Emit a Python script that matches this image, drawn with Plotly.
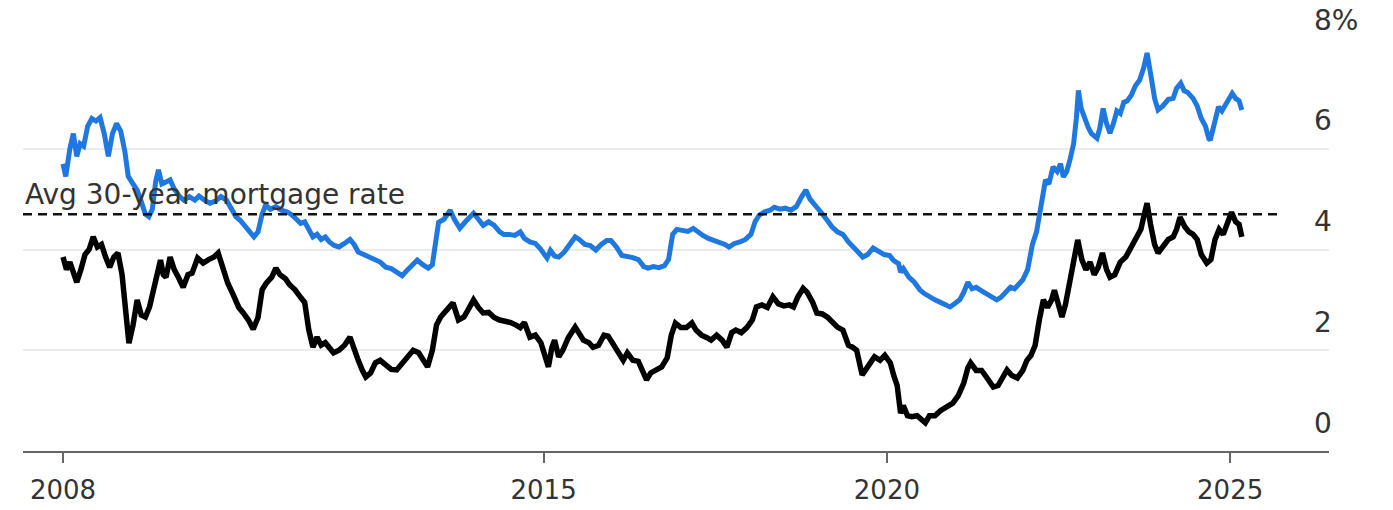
import plotly.graph_objects as go

# ---- data (decimal years, percent) ----
mortgage_x = [2008.00, 2008.04, 2008.10, 2008.15, 2008.20, 2008.25, 2008.30, 2008.36, 2008.42, 2008.48,
              2008.54, 2008.60, 2008.66, 2008.72, 2008.78, 2008.84, 2008.90, 2008.95, 2009.02, 2009.08,
              2009.14, 2009.20, 2009.25, 2009.30, 2009.35, 2009.39, 2009.44, 2009.50, 2009.56, 2009.62,
              2009.70, 2009.76, 2009.84, 2009.92, 2009.98, 2010.06, 2010.14, 2010.22, 2010.30, 2010.38,
              2010.45, 2010.52, 2010.58, 2010.65, 2010.72, 2010.78, 2010.84, 2010.90, 2010.95, 2011.02,
              2011.10, 2011.18, 2011.26, 2011.32, 2011.40, 2011.46, 2011.52, 2011.58, 2011.64, 2011.70,
              2011.76, 2011.82, 2011.88, 2011.95, 2012.02, 2012.10, 2012.18, 2012.24, 2012.30, 2012.38,
              2012.46, 2012.56, 2012.62, 2012.70, 2012.78, 2012.86, 2012.94, 2013.02, 2013.10, 2013.16,
              2013.24, 2013.32, 2013.38, 2013.42, 2013.47, 2013.55, 2013.64, 2013.70, 2013.78, 2013.86,
              2013.94, 2013.98, 2014.05, 2014.12, 2014.20, 2014.28, 2014.36, 2014.42, 2014.50, 2014.58,
              2014.66, 2014.72, 2014.80, 2014.88, 2014.95, 2015.05, 2015.10, 2015.16, 2015.22, 2015.30,
              2015.38, 2015.46, 2015.52, 2015.60, 2015.68, 2015.76, 2015.84, 2015.92, 2015.98, 2016.06,
              2016.14, 2016.22, 2016.30, 2016.38, 2016.46, 2016.52, 2016.60, 2016.68, 2016.76, 2016.82,
              2016.88, 2016.94, 2017.02, 2017.10, 2017.18, 2017.24, 2017.32, 2017.40, 2017.48, 2017.56,
              2017.64, 2017.70, 2017.78, 2017.86, 2017.94, 2018.02, 2018.08, 2018.14, 2018.22, 2018.30,
              2018.36, 2018.44, 2018.52, 2018.60, 2018.68, 2018.76, 2018.82, 2018.88, 2018.96, 2019.04,
              2019.12, 2019.20, 2019.28, 2019.36, 2019.44, 2019.52, 2019.58, 2019.65, 2019.72, 2019.80,
              2019.88, 2019.96, 2020.04, 2020.10, 2020.17, 2020.20, 2020.24, 2020.32, 2020.40, 2020.48,
              2020.54, 2020.62, 2020.70, 2020.78, 2020.86, 2020.92, 2020.98, 2021.06, 2021.12, 2021.18,
              2021.24, 2021.30, 2021.38, 2021.46, 2021.54, 2021.60, 2021.66, 2021.72, 2021.80, 2021.86,
              2021.92, 2021.98, 2022.05, 2022.12, 2022.18, 2022.23, 2022.27, 2022.31, 2022.36, 2022.42,
              2022.48, 2022.53, 2022.57, 2022.62, 2022.67, 2022.72, 2022.76, 2022.79, 2022.83, 2022.88,
              2022.93, 2022.98, 2023.06, 2023.10, 2023.15, 2023.20, 2023.25, 2023.30, 2023.35, 2023.40,
              2023.45, 2023.50, 2023.56, 2023.62, 2023.68, 2023.74, 2023.79, 2023.84, 2023.90, 2023.95,
              2024.02, 2024.10, 2024.17, 2024.22, 2024.28, 2024.33, 2024.38, 2024.46, 2024.52, 2024.58,
              2024.64, 2024.69, 2024.71, 2024.77, 2024.83, 2024.88, 2024.96, 2025.03, 2025.08, 2025.13,
              2025.17]
mortgage_y = [5.70, 5.45, 6.00, 6.30, 5.85, 6.10, 6.05, 6.45, 6.60, 6.55,
              6.62, 6.30, 5.85, 6.30, 6.50, 6.35, 5.95, 5.45, 5.30, 5.18,
              4.95, 4.70, 4.65, 4.80, 5.35, 5.58, 5.30, 5.35, 5.38, 5.20,
              5.05, 4.98, 5.05, 4.98, 5.06, 4.98, 4.92, 4.96, 5.05, 4.98,
              4.80, 4.65, 4.58, 4.45, 4.33, 4.25, 4.35, 4.70, 4.88, 4.80,
              4.85, 4.78, 4.75, 4.70, 4.60, 4.52, 4.55, 4.40, 4.25, 4.30,
              4.20, 4.25, 4.15, 4.08, 4.05, 4.12, 4.20, 4.10, 3.95, 3.90,
              3.85, 3.79, 3.75, 3.65, 3.62, 3.55, 3.48, 3.60, 3.72, 3.79,
              3.70, 3.63, 3.70, 4.10, 4.54, 4.60, 4.78, 4.60, 4.42, 4.55,
              4.68, 4.72, 4.60, 4.48, 4.55, 4.48, 4.35, 4.30, 4.30, 4.28,
              4.35, 4.22, 4.15, 4.12, 4.02, 3.83, 3.98, 3.87, 3.85, 3.95,
              4.10, 4.25, 4.20, 4.10, 4.08, 3.99, 4.10, 4.18, 4.18, 4.05,
              3.88, 3.87, 3.84, 3.80, 3.66, 3.63, 3.66, 3.64, 3.68, 3.80,
              4.30, 4.40, 4.38, 4.36, 4.42, 4.35, 4.28, 4.22, 4.18, 4.16,
              4.10, 4.05, 4.12, 4.15, 4.20, 4.30, 4.55, 4.68, 4.75, 4.78,
              4.84, 4.80, 4.82, 4.78, 4.85, 5.05, 5.18, 5.00, 4.85, 4.74,
              4.60, 4.45, 4.35, 4.30, 4.15, 4.05, 3.95, 3.85, 3.90, 4.03,
              3.95, 3.90, 3.88, 3.78, 3.72, 3.55, 3.62, 3.45, 3.35, 3.20,
              3.13, 3.05, 3.00, 2.95, 2.90, 2.86, 2.92, 3.00, 3.15, 3.35,
              3.22, 3.25, 3.18, 3.12, 3.05, 3.00, 3.05, 3.15, 3.25, 3.22,
              3.30, 3.40, 3.60, 4.10, 4.35, 4.72, 5.10, 5.38, 5.30, 5.64,
              5.55, 5.70, 5.44, 5.55, 5.80, 6.10, 6.60, 7.16, 6.80, 6.60,
              6.43, 6.30, 6.21, 6.40, 6.80, 6.50, 6.31, 6.50, 6.75, 6.70,
              6.92, 6.95, 7.06, 7.25, 7.36, 7.60, 7.90, 7.50, 7.00, 6.77,
              6.85, 6.98, 7.00, 7.20, 7.30, 7.15, 7.12, 7.00, 6.85, 6.60,
              6.45, 6.20, 6.17, 6.50, 6.83, 6.75, 6.95, 7.10, 7.00, 6.95,
              6.77]

treasury_x = [2008.00, 2008.05, 2008.10, 2008.20, 2008.26, 2008.32, 2008.38, 2008.44, 2008.50, 2008.56,
              2008.62, 2008.68, 2008.74, 2008.80, 2008.86, 2008.92, 2008.96, 2009.02, 2009.08, 2009.14,
              2009.20, 2009.26, 2009.32, 2009.38, 2009.42, 2009.46, 2009.50, 2009.56, 2009.62, 2009.68,
              2009.75, 2009.82, 2009.88, 2009.96, 2010.04, 2010.12, 2010.20, 2010.26, 2010.33, 2010.40,
              2010.48, 2010.56, 2010.62, 2010.70, 2010.77, 2010.84, 2010.90, 2010.96, 2011.04, 2011.10,
              2011.16, 2011.24, 2011.30, 2011.38, 2011.46, 2011.52, 2011.58, 2011.64, 2011.70, 2011.76,
              2011.82, 2011.88, 2011.94, 2012.02, 2012.10, 2012.18, 2012.24, 2012.30, 2012.36, 2012.41,
              2012.48, 2012.55, 2012.62, 2012.70, 2012.78, 2012.86, 2012.94, 2013.02, 2013.10, 2013.18,
              2013.26, 2013.31, 2013.38, 2013.44, 2013.50, 2013.56, 2013.62, 2013.68, 2013.76, 2013.84,
              2013.92, 2013.98, 2014.05, 2014.12, 2014.20, 2014.28, 2014.36, 2014.44, 2014.52, 2014.60,
              2014.66, 2014.72, 2014.80, 2014.88, 2014.96, 2015.07, 2015.12, 2015.16, 2015.22, 2015.28,
              2015.36, 2015.46, 2015.52, 2015.58, 2015.66, 2015.72, 2015.80, 2015.88, 2015.94, 2016.02,
              2016.10, 2016.16, 2016.22, 2016.30, 2016.38, 2016.44, 2016.50, 2016.56, 2016.64, 2016.72,
              2016.80, 2016.86, 2016.92, 2017.00, 2017.08, 2017.16, 2017.22, 2017.30, 2017.38, 2017.44,
              2017.52, 2017.60, 2017.67, 2017.74, 2017.80, 2017.88, 2017.96, 2018.04, 2018.10, 2018.18,
              2018.26, 2018.34, 2018.42, 2018.50, 2018.58, 2018.64, 2018.70, 2018.78, 2018.84, 2018.92,
              2018.98, 2019.06, 2019.14, 2019.22, 2019.28, 2019.36, 2019.44, 2019.50, 2019.56, 2019.64,
              2019.70, 2019.76, 2019.82, 2019.90, 2019.97, 2020.05, 2020.10, 2020.15, 2020.20, 2020.24,
              2020.30, 2020.36, 2020.44, 2020.52, 2020.56, 2020.62, 2020.70, 2020.78, 2020.88, 2020.96,
              2021.04, 2021.12, 2021.18, 2021.22, 2021.30, 2021.38, 2021.46, 2021.55, 2021.62, 2021.68,
              2021.75, 2021.82, 2021.90, 2021.98, 2022.04, 2022.10, 2022.16, 2022.22, 2022.28, 2022.34,
              2022.40, 2022.44, 2022.50, 2022.55, 2022.60, 2022.66, 2022.72, 2022.78, 2022.84, 2022.90,
              2022.96, 2023.02, 2023.08, 2023.14, 2023.20, 2023.25, 2023.32, 2023.40, 2023.48, 2023.56,
              2023.64, 2023.70, 2023.75, 2023.79, 2023.84, 2023.90, 2023.95, 2024.02, 2024.10, 2024.17,
              2024.22, 2024.27, 2024.34, 2024.40, 2024.46, 2024.52, 2024.58, 2024.66, 2024.72, 2024.78,
              2024.84, 2024.90, 2024.96, 2025.02, 2025.08, 2025.13, 2025.17]
treasury_y = [3.85, 3.60, 3.75, 3.35, 3.60, 3.90, 4.00, 4.25, 4.05, 4.10,
              3.85, 3.65, 3.85, 3.93, 3.50, 2.70, 2.14, 2.50, 3.00, 2.70,
              2.66, 2.86, 3.20, 3.60, 3.79, 3.50, 3.45, 3.85, 3.60, 3.45,
              3.25, 3.50, 3.53, 3.83, 3.73, 3.80, 3.85, 3.93, 3.60, 3.33,
              3.10, 2.85, 2.75, 2.60, 2.42, 2.65, 3.20, 3.33, 3.45, 3.63,
              3.50, 3.42, 3.30, 3.20, 3.05, 2.95, 2.40, 2.06, 2.26, 2.10,
              2.15, 2.05, 1.95, 2.00, 2.10, 2.26, 2.00, 1.80, 1.60, 1.47,
              1.55, 1.75, 1.80, 1.70, 1.62, 1.61, 1.75, 1.90, 2.00, 1.95,
              1.75, 1.67, 2.00, 2.50, 2.66, 2.75, 2.85, 2.94, 2.60, 2.66,
              2.85, 3.00, 2.85, 2.74, 2.75, 2.65, 2.60, 2.58, 2.55, 2.50,
              2.45, 2.55, 2.26, 2.30, 2.15, 1.67, 2.05, 2.20, 1.87, 2.00,
              2.25, 2.46, 2.35, 2.20, 2.15, 2.06, 2.10, 2.30, 2.28, 2.10,
              1.90, 1.80, 1.95, 1.80, 1.78, 1.60, 1.41, 1.55, 1.60, 1.67,
              1.85, 2.30, 2.54, 2.45, 2.45, 2.54, 2.40, 2.30, 2.25, 2.20,
              2.30, 2.20, 2.06, 2.35, 2.40, 2.35, 2.45, 2.60, 2.86, 2.90,
              2.85, 3.06, 2.92, 2.88, 2.90, 2.86, 3.05, 3.23, 3.15, 2.95,
              2.74, 2.72, 2.65, 2.55, 2.46, 2.40, 2.10, 2.06, 2.00, 1.51,
              1.65, 1.75, 1.87, 1.80, 1.90, 1.75, 1.50, 1.30, 0.75, 0.90,
              0.70, 0.68, 0.70, 0.60, 0.56, 0.70, 0.70, 0.80, 0.87, 0.95,
              1.10, 1.35, 1.65, 1.75, 1.60, 1.60, 1.45, 1.27, 1.30, 1.45,
              1.61, 1.50, 1.45, 1.60, 1.80, 1.90, 2.10, 2.60, 3.00, 2.85,
              3.00, 3.19, 2.90, 2.66, 2.90, 3.30, 3.70, 4.19, 3.80, 3.60,
              3.75, 3.50, 3.65, 3.93, 3.60, 3.45, 3.50, 3.75, 3.85, 4.05,
              4.30, 4.40, 4.70, 4.92, 4.50, 4.10, 3.93, 4.05, 4.20, 4.25,
              4.40, 4.64, 4.45, 4.35, 4.30, 4.20, 3.90, 3.73, 3.80, 4.20,
              4.40, 4.30, 4.55, 4.74, 4.55, 4.50, 4.25]

avg_mortgage = 4.70
avg_span = [2007.417, 2025.73]
avg_label = "Avg 30-year mortgage rate"

x_range = [2007.417, 2026.44]
x_tickvals = [2008, 2015, 2020, 2025]
x_ticktext = ["2008", "2015", "2020", "2025"]
y_tickvals = [0, 2, 4, 6, 8]
y_ticktext = ["0", "2", "4", "6", "8%"]

FONT = "DejaVu Sans"
TXT = "#333333"
BLUE = "#1E78DF"

fig = go.Figure()
fig.add_trace(go.Scatter(x=treasury_x, y=treasury_y, mode="lines",
                         line=dict(color="#000000", width=5.5), hoverinfo="skip"))
fig.add_trace(go.Scatter(x=mortgage_x, y=mortgage_y, mode="lines",
                         line=dict(color=BLUE, width=5), hoverinfo="skip"))
fig.add_trace(go.Scatter(x=avg_span, y=[avg_mortgage, avg_mortgage], mode="lines",
                         line=dict(color="#111111", width=2.5, dash="9px,6px"), hoverinfo="skip"))

fig.add_annotation(x=avg_span[0], y=avg_mortgage, xref="x", yref="y", text=avg_label,
                   showarrow=False, xanchor="left", yanchor="middle", yshift=20,
                   font=dict(family=FONT, size=28, color=TXT))

for v, t in zip(y_tickvals, y_ticktext):
    fig.add_annotation(x=0.987, y=v, xref="paper", yref="y", text=t, showarrow=False,
                       xanchor="left", yanchor="middle", yshift=28,
                       font=dict(family=FONT, size=28, color=TXT))

fig.update_layout(
    width=1393, height=510,
    margin=dict(l=23, r=64, t=48, b=59),
    paper_bgcolor="white", plot_bgcolor="white",
    showlegend=False, hovermode=False,
    xaxis=dict(range=x_range, tickvals=x_tickvals, ticktext=x_ticktext, automargin=False,
               showgrid=False, zeroline=False, showline=True, linecolor="#666666", linewidth=2,
               ticks="outside", ticklen=10, tickwidth=1.5, tickcolor="#666666",
               ticklabelstandoff=5,
               tickfont=dict(family=FONT, size=26, color=TXT)),
    yaxis=dict(range=[0, 8], tickvals=y_tickvals, showticklabels=False, automargin=False,
               showgrid=True, gridcolor="#ebebeb", gridwidth=1.5, zeroline=False),
)

fig.write_html("out.html")
